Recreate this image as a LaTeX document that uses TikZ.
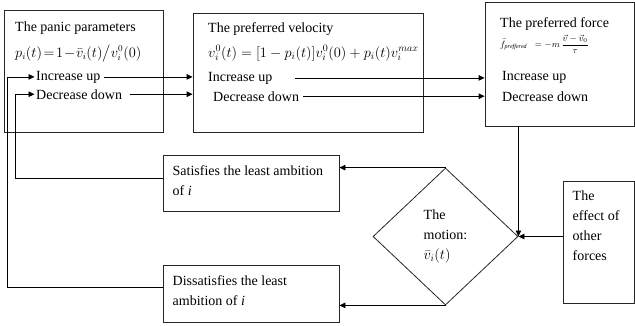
\documentclass[tikz,border=0pt]{standalone}
\usepackage{fontspec}
\setmainfont{Liberation Serif}
\usepackage{amsmath}
\usetikzlibrary{shapes.geometric,arrows.meta,positioning,calc}

\begin{document}
\begin{tikzpicture}[x=1pt,y=-1pt,
  box/.style={draw=black!85,line width=0.8pt,inner sep=0pt},
  txt/.style={anchor=base west,inner sep=1.5pt,font=\fontsize{14}{19}\selectfont},
  mtxt/.style={anchor=north west,inner sep=1.5pt,align=left,
               font=\fontsize{14}{19.5}\selectfont},
  fl/.style={-{Triangle[length=6pt,width=5.5pt]},line width=0.8pt}
]
\useasboundingbox (0,0) rectangle (635,325);

% upper row of boxes
\node[box,minimum width=159,minimum height=122] (panic) at (83.5,71)  {};
\node[box,minimum width=230,minimum height=119] (velo)  at (308,72.5) {};
\node[box,minimum width=149,minimum height=124] (force) at (559.5,64) {};

\node[txt] (tit1) at (13.5,31)  {The panic parameters};
\node[txt,font=\fontsize{13.5}{16}\selectfont] (frm1) at (13.5,57)
  {$p_i(t)\!=\!1\!-\!\bar v_i(t)\big/v_i^0(0)$};
\node[txt] (inc1) at (34.5,80)  {Increase up};
\node[txt] (dec1) at (34.5,99)  {Decrease down};

\node[txt] (tit2) at (206.5,32) {The preferred velocity};
\node[txt,font=\fontsize{14.5}{17}\selectfont] (frm2) at (206.5,57)
  {$v_i^0(t)=[1-p_i(t)]v_i^0(0)+p_i(t)v_i^{max}$};
\node[txt] (inc2) at (206.5,81) {Increase up};
\node[txt] (dec2) at (211.5,101) {Decrease down};

\node[txt] (tit3) at (498.5,27) {The preferred force};
\node[txt,font=\fontsize{9}{11}\selectfont] (frm3) at (498.5,47)
  {$\bar f_{\mathit{preffered}}\;\;=-m\,\dfrac{\vec v-\vec v_0}{\tau}$};
\node[txt] (inc3) at (500.5,80) {Increase up};
\node[txt] (dec3) at (500.5,101) {Decrease down};

% lower part
\node[box,minimum width=176,minimum height=56] (satis)  at (251,183)   {};
\node[box,minimum width=176,minimum height=57] (dissat) at (251,293.5) {};
\node[mtxt] at (171,164) {Satisfies the least ambition\\of \textit{i}};
\node[mtxt] at (171,274) {Dissatisfies the least\\ambition of \textit{i}};

\node[diamond,draw=black!85,line width=0.8pt,inner sep=0pt,
      minimum width=145,minimum height=137,align=left,
      font=\fontsize{14}{20}\selectfont] (diam) at (445.5,236.5)
  {The\\motion:\\$\bar v_i(t)$};

\node[box,minimum width=71,minimum height=122] (effect) at (598.5,242) {};
\node[mtxt,font=\fontsize{14}{20}\selectfont] at (571,189)
  {The\\effect of\\other\\forces};

% connectors
\draw[fl] ([xshift=2pt]inc1.east) -- (inc1.east -| velo.west);
\draw[fl] ([xshift=6pt]dec1.east) -- (dec1.east -| velo.west);
\draw[fl] ([xshift=21pt]inc2.east) -- (inc2.east -| force.west);
\draw[fl] ([xshift=2pt]dec2.east) -- (dec2.east -| force.west);

\draw[fl] (diam.east |- force.south) -- (diam.east);
\draw[fl] (effect.west |- diam.east) -- (diam.east);
\draw[fl] (diam.north) -- (diam.north -| satis.east);
\draw[fl] (diam.south) -- (diam.south -| dissat.east);

\draw[fl] ([yshift=5pt]satis.west) -- ++(-147,0) |- (dec1.west);
\draw[fl] ([yshift=6pt]dissat.west) -- ++(-155,0) |- (inc1.west);
\end{tikzpicture}
\end{document}
